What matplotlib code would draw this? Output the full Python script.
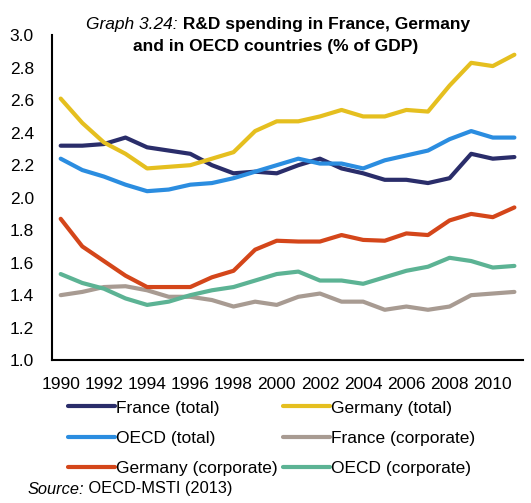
import matplotlib.pyplot as plt

plt.rcParams['font.family'] = ['Liberation Sans', 'DejaVu Sans']

years = list(range(1990, 2012))

france_total = [2.32, 2.32, 2.33, 2.37, 2.31, 2.29, 2.27, 2.20, 2.15, 2.16, 2.15,
                2.20, 2.24, 2.18, 2.15, 2.11, 2.11, 2.09, 2.12, 2.27, 2.24, 2.25]
germany_total = [2.61, 2.46, 2.34, 2.27, 2.18, 2.19, 2.20, 2.24, 2.28, 2.41, 2.47,
                 2.47, 2.50, 2.54, 2.50, 2.50, 2.54, 2.53, 2.69, 2.83, 2.81, 2.88]
oecd_total = [2.24, 2.17, 2.13, 2.08, 2.04, 2.05, 2.08, 2.09, 2.12, 2.16, 2.20,
              2.24, 2.21, 2.21, 2.18, 2.23, 2.26, 2.29, 2.36, 2.41, 2.37, 2.37]
france_corp = [1.40, 1.42, 1.45, 1.455, 1.43, 1.39, 1.39, 1.37, 1.33, 1.36, 1.34,
               1.39, 1.41, 1.36, 1.36, 1.31, 1.33, 1.31, 1.33, 1.40, 1.41, 1.42]
germany_corp = [1.87, 1.70, 1.61, 1.52, 1.45, 1.45, 1.45, 1.51, 1.55, 1.68, 1.735,
                1.73, 1.73, 1.77, 1.74, 1.735, 1.78, 1.77, 1.86, 1.90, 1.88, 1.94]
oecd_corp = [1.53, 1.475, 1.44, 1.38, 1.34, 1.36, 1.40, 1.43, 1.45, 1.49, 1.53,
             1.545, 1.49, 1.49, 1.47, 1.51, 1.55, 1.575, 1.63, 1.61, 1.57, 1.58]

series = [
    ("France (total)", france_total, "#2a2d6a"),
    ("Germany (total)", germany_total, "#e5bf1f"),
    ("OECD (total)", oecd_total, "#2b8de0"),
    ("France (corporate)", france_corp, "#a89b92"),
    ("Germany (corporate)", germany_corp, "#d4461a"),
    ("OECD (corporate)", oecd_corp, "#5cb394"),
]

fs = 12.5

fig = plt.figure(figsize=(5.31, 5.03), dpi=100)
ax = fig.add_axes([0.098, 0.284, 0.887, 0.646])

for label, vals, col in series:
    ax.plot(years, vals, color=col, lw=3, label=label, solid_capstyle='round')

ax.set_ylim(1.0, 3.0)
ax.set_xlim(1989.6, 2011.4)
ax.set_yticks([1.0, 1.2, 1.4, 1.6, 1.8, 2.0, 2.2, 2.4, 2.6, 2.8, 3.0])
ax.set_yticklabels([f"{v:.1f}" for v in ax.get_yticks()])
ax.set_xticks(years[::2])
ax.tick_params(length=0, labelsize=fs)
ax.tick_params(axis='x', pad=12)
ax.tick_params(axis='y', pad=13)
for s in ['top', 'right']:
    ax.spines[s].set_visible(False)
for s in ['left', 'bottom']:
    ax.spines[s].set_color('black')
    ax.spines[s].set_linewidth(1.5)

# legend is filled row by row in the reference
handles, labels = ax.get_legend_handles_labels()
order = [0, 2, 4, 1, 3, 5]
fig.legend([handles[i] for i in order], [labels[i] for i in order], ncol=2,
           loc='upper left', bbox_to_anchor=(0.128, 0.204),
           frameon=False, fontsize=fs, handlelength=2.7, handletextpad=0.05,
           columnspacing=0.35, labelspacing=0.86, borderaxespad=0, borderpad=0)

t1 = fig.text(86 / 531, 1 - 25 / 503, "Graph 3.24:", fontsize=fs, style='italic', va='center')
ax.annotate(" R&D spending in France, Germany", xy=(1, 0), xycoords=t1, va='bottom',
            fontsize=fs, fontweight='bold')
fig.text(276 / 531, 1 - 46 / 503, "and in OECD countries (% of GDP)", fontsize=fs,
         fontweight='bold', ha='center', va='center')

s1 = fig.text(28 / 531, 1 - 489 / 503, "Source:", fontsize=11.8, style='italic', va='center')
ax.annotate(" OECD-MSTI (2013)", xy=(1, 0), xycoords=s1, va='bottom', fontsize=11.8)

fig.savefig("out.png", dpi=100)
